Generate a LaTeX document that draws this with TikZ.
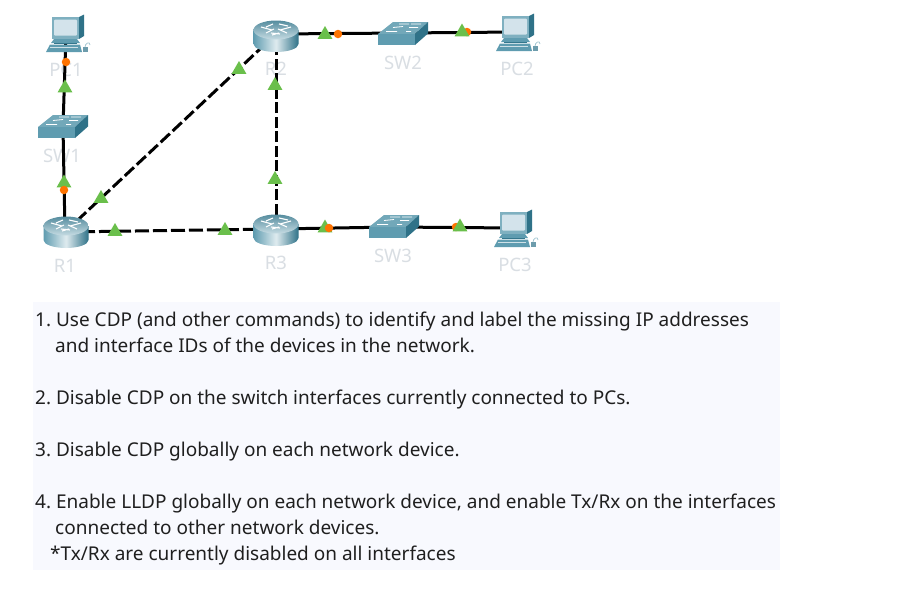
\documentclass[tikz,border=0pt]{standalone}
\usepackage{fontspec}
\setmainfont{Noto Sans}
\usetikzlibrary{shapes.geometric}
\definecolor{teal1}{HTML}{5F9CB0}
\definecolor{teal2}{HTML}{2F7288}
\definecolor{teal3}{HTML}{7FB0C0}
\definecolor{scr}{HTML}{D3E3EB}
\definecolor{lab}{HTML}{D9DEE3}
\definecolor{panel}{HTML}{F8F9FE}
\definecolor{grn}{HTML}{6ABF4B}
\definecolor{org}{HTML}{FF7300}
\tikzset{
  x=1pt,y=-1pt,
  link/.style={line width=3pt,black},
  dlinkh/.style={link,dash pattern=on 14pt off 4pt,dash phase=2pt},
  dlinkd/.style={link,dash pattern=on 12.5pt off 3.9pt},
  dlinkv/.style={link,dash pattern=on 11pt off 3.5pt},
  lab/.style={text=lab,font=\fontsize{18.5pt}{20pt}\selectfont,inner sep=0pt},
  stepline/.style={anchor=base west,inner sep=0pt,font=\fontsize{19pt}{22pt}\selectfont\frenchspacing,text=black!88!white},
  dev/.style={inner sep=0pt,minimum size=1pt},
  grnmark/.style={regular polygon,regular polygon sides=3,fill=grn,draw=none,inner sep=0pt,minimum size=17pt},
  orgmark/.style={circle,fill=org,draw=none,inner sep=0pt,minimum size=8.5pt},
  pics/router/.style={code={
    \path[left color=teal1,right color=teal2,middle color=white!80!teal1]
      (-22.5,-6) -- (-22.5,8) arc[start angle=180,end angle=0,x radius=22.5,y radius=8]
      -- (22.5,-6) -- cycle;
    \path[top color=teal1!90!black,bottom color=teal3!45!white]
      (0,-6) ellipse[x radius=22.5,y radius=9.5];
    \draw[white,line width=1.1pt] (-15,-9) -- (-4,-6) (-10,-3)--(-2,-7)(15,-9)--(4,-6)(11,-3)--(2,-7)
      (-3,-12)--(-10,-9)(3,-12)--(12,-10)(-4,-1)--(3,-3)(4,-2)--(-5,-3);
  }},
  pics/swbox/.style={code={
    \fill[teal1!88!white] (-25,.5) -- (-10,-11.5) -- (25,-11.5) -- (12,.5) -- cycle;
    \fill[teal1] (-25,.5) rectangle (12,11.5);
    \fill[teal2] (12,11.5) -- (12,.5) -- (25,-11.5) -- (25,0) -- cycle;
    \draw[white,line width=.8pt] (-10,-6) -- (0,-7) (6,-6)--(15,-6) (-4,-9.5) -- (6,-9.5) (8,-9.5)--(18,-9.5) (-17,-2)--(-6,-2) (3,-2)--(8,-2);
  }},
  pics/pcbox/.style={code={
    \fill[teal2] (33,1) -- (38,-1.5) -- (38,20) -- (33,23) -- cycle;
    \fill[teal3] (6,1) -- (33,1) -- (33,23) -- (6,23) -- cycle;
    \fill[scr,rounded corners=1pt] (8,3.5) rectangle (31,19.5);
    \fill[teal2] (8,23) rectangle (31,28);
    \fill[teal1] (8,23) -- (31,23) -- (34,27) -- (5,27) -- cycle;
    \fill[teal1] (4,28.5) -- (34,28.5) -- (36,36) -- (0,36) -- cycle;
    \fill[teal2!70!white] (36.5,31) rectangle (42,36);
    \draw[teal1!60!white,line width=.7pt] (39,31) .. controls (39,27) and (44,25) .. (44,29);
    \draw[white!70!teal1,line width=.6pt] (4,31) -- (32,31);
  }}
}
\begin{document}
\begin{tikzpicture}
\useasboundingbox (0,0) rectangle (922,606);
\fill[white] (0,0) rectangle (922,606);
\fill[panel] (33,302) rectangle (780,570);

% labels lie under the links
\node[lab] (lPC1) at (66,70) {PC1};
\node[lab] (lSW1) at (62,156) {SW1};
\node[lab] (lR1) at (65,266) {R1};
\node[lab] (lR2) at (276,69) {R2};
\node[lab] (lSW2) at (403,63) {SW2};
\node[lab] (lPC2) at (517,69) {PC2};
\node[lab] (lR3) at (276,263) {R3};
\node[lab] (lSW3) at (393,256) {SW3};
\node[lab] (lPC3) at (515,265) {PC3};

% device anchors
\node[dev] (PC1) at (66,34) {};
\node[dev] (SW1) at (63,127) {};
\node[dev] (R1) at (65,232) {};
\node[dev] (R2) at (276,34) {};
\node[dev] (R3) at (276,229) {};
\node[dev] (SW2) at (403,33) {};
\node[dev] (SW3) at (393,227) {};
\node[dev] (PC2) at (515,32) {};
\node[dev] (PC3) at (515,228) {};

% links
\draw[link] (PC1.center) -- (SW1.center);
\draw[link] (SW1.center) -- (R1.center);
\draw[dlinkd] (R1.center) -- (R2.center);
\draw[dlinkh] (R1.center) -- (R3.center);
\draw[dlinkv] (R3.center) -- (R2.center);
\draw[link] (R2.center) -- (SW2.center);
\draw[link] (SW2.center) -- (PC2.center);
\draw[link] (R3.center) -- (SW3.center);
\draw[link] (SW3.center) -- (PC3.center);

% devices
\pic at (66,232) {router};
\pic at (276,36) {router};
\pic at (276,230) {router};
\pic at (63,126.5) {swbox};
\pic at (403,33.5) {swbox};
\pic at (394,226.5) {swbox};
\pic at (46,16) {pcbox};
\pic at (496,15) {pcbox};
\pic at (494,211) {pcbox};

% link state markers
\node[orgmark] (o1) at (66,62) {};
\node[grnmark] (g1) at (65,88) {};
\node[grnmark] (g2) at (64,183) {};
\node[orgmark] (o2) at (64,190) {};
\node[grnmark] (g3) at (101,198.5) {};
\node[grnmark] (g4) at (239,69.5) {};
\node[grnmark] (g5) at (115,231.5) {};
\node[grnmark] (g6) at (225,230.5) {};
\node[grnmark] (g7) at (275,85.5) {};
\node[grnmark] (g8) at (275,179.5) {};
\node[grnmark] (g9) at (325,34.5) {};
\node[orgmark] (o3) at (338,34) {};
\node[orgmark] (o4) at (467,32) {};
\node[grnmark] (g10) at (462,32) {};
\node[grnmark] (g11) at (325,228) {};
\node[orgmark] (o5) at (329,228) {};
\node[orgmark] (o6) at (456,227) {};
\node[grnmark] (g12) at (460,227) {};

% instructions
\node[stepline] (t1) at (35,326) {1. Use CDP (and other commands) to identify and label the missing IP addresses};
\node[stepline] (t1b) at (55,352) {and interface IDs of the devices in the network.};
\node[stepline] (t2) at (35,404) {2. Disable CDP on the switch interfaces currently connected to PCs.};
\node[stepline] (t3) at (35,456) {3. Disable CDP globally on each network device.};
\node[stepline] (t4) at (35,508) {4. Enable LLDP globally on each network device, and enable Tx/Rx on the interfaces};
\node[stepline] (t4b) at (55,534) {connected to other network devices.};
\node[stepline] (t4c) at (50,560) {*Tx/Rx are currently disabled on all interfaces};
\end{tikzpicture}
\end{document}
